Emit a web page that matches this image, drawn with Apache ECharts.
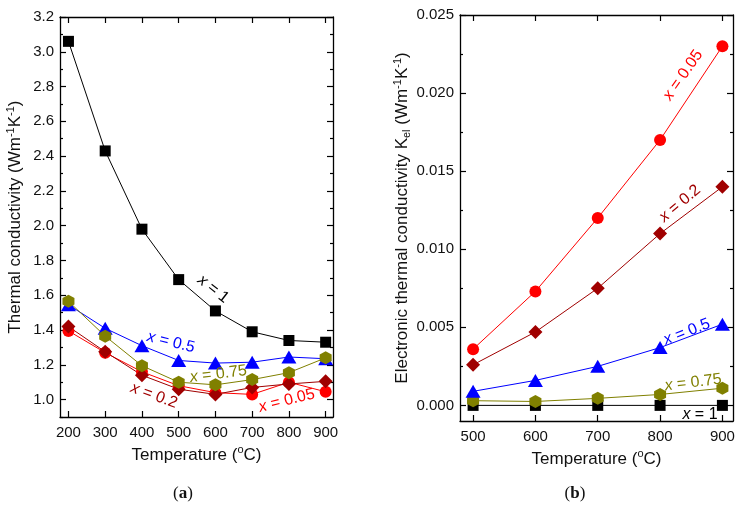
<!DOCTYPE html>
<html>
<head>
<meta charset="utf-8">
<script src="https://cdn.jsdelivr.net/npm/echarts@6/dist/echarts.min.js"></script>
<style>
html,body{margin:0;padding:0;background:#fff;}
#c{width:742px;height:507px;}
</style>
</head>
<body>
<div id="c"></div>
<script>
// ---------- data ----------
const tempA = [200, 300, 400, 500, 600, 700, 800, 900];
const kA_x1   = [3.06, 2.43, 1.98, 1.69, 1.51, 1.39, 1.34, 1.33];
const kA_x05  = [1.545, 1.41, 1.31, 1.225, 1.21, 1.215, 1.245, 1.235];
const kA_x075 = [1.565, 1.365, 1.195, 1.10, 1.085, 1.115, 1.155, 1.24];
const kA_x02  = [1.42, 1.275, 1.14, 1.06, 1.03, 1.07, 1.09, 1.105];
const kA_x005 = [1.395, 1.27, 1.16, 1.08, 1.04, 1.03, 1.10, 1.045];

const tempB = [500, 600, 700, 800, 900];
const kB_x005 = [0.0036, 0.0073, 0.0120, 0.0170, 0.0230];
const kB_x02  = [0.0026, 0.0047, 0.0075, 0.0110, 0.0140];
const kB_x05  = [0.0009, 0.0016, 0.0025, 0.0037, 0.0052];
const kB_x075 = [0.0003, 0.00025, 0.00045, 0.0007, 0.0011];
const kB_x1   = [0, 0, 0, 0, 0];

const xTicksA = [200, 300, 400, 500, 600, 700, 800, 900];
const yTicksA = [1.0, 1.2, 1.4, 1.6, 1.8, 2.0, 2.2, 2.4, 2.6, 2.8, 3.0, 3.2];
const yMinorA = [0.9, 1.1, 1.3, 1.5, 1.7, 1.9, 2.1, 2.3, 2.5, 2.7, 2.9, 3.1];
const xTicksB = [500, 600, 700, 800, 900];
const yTicksB = [0.000, 0.005, 0.010, 0.015, 0.020, 0.025];
const yMinorB = [0.0025, 0.0075, 0.0125, 0.0175, 0.0225];

// ---------- styles ----------
const FONT = 'Liberation Sans, Arial, sans-serif';
const C = { x1: '#000000', x05: '#0000ff', x075: '#808000', x02: '#a00000', x005: '#ff0000' };
const HEX = 'path://M0,-1 L0.866,-0.5 L0.866,0.5 L0,1 L-0.866,0.5 L-0.866,-0.5 Z';

function zip(xs, ys) { return xs.map((x, i) => [x, ys[i]]); }

const richT = {
  t: { fontSize: 17, fontFamily: FONT, color: '#111', lineHeight: 20 },
  s: { fontSize: 11, fontFamily: FONT, color: '#111', verticalAlign: 'top', lineHeight: 11 },
  b: { fontSize: 11, fontFamily: FONT, color: '#111', verticalAlign: 'bottom', lineHeight: 9 }
};

function xMain(gridIndex, min, max, ticks, gap) {
  return {
    type: 'value', gridIndex, min, max, position: 'bottom',
    axisLine: { show: true, onZero: false, lineStyle: { color: '#000', width: 1.3 } },
    axisTick: { show: true, inside: true, length: 6, customValues: ticks, lineStyle: { color: '#000', width: 1.2 } },
    axisLabel: { customValues: ticks, color: '#111', fontSize: 15, fontFamily: FONT, margin: 8 },
    splitLine: { show: false },
    name: '{t|Temperature (}{s|o}{t|C)}',
    nameLocation: 'middle', nameGap: gap,
    nameTextStyle: { rich: richT }
  };
}
function xTop(gridIndex, min, max, ticks) {
  return {
    type: 'value', gridIndex, min, max, position: 'top',
    axisLine: { show: true, onZero: false, lineStyle: { color: '#000', width: 1.3 } },
    axisTick: { show: true, inside: true, length: 6, customValues: ticks, lineStyle: { color: '#000', width: 1.2 } },
    axisLabel: { show: false }, splitLine: { show: false }
  };
}
function yAxisSet(gridIndex, min, max, ticks, minor, fmt, name, nameGap) {
  return [
    {
      type: 'value', gridIndex, min, max, position: 'left',
      axisLine: { show: true, onZero: false, lineStyle: { color: '#000', width: 1.3 } },
      axisTick: { show: true, inside: true, length: 6, customValues: ticks, lineStyle: { color: '#000', width: 1.2 } },
      axisLabel: { customValues: ticks, color: '#111', fontSize: 15, fontFamily: FONT, margin: 6, formatter: fmt },
      splitLine: { show: false },
      name, nameLocation: 'middle', nameGap, nameRotate: 90,
      nameTextStyle: { rich: richT }
    },
    {
      type: 'value', gridIndex, min, max, position: 'left',
      axisLine: { show: false },
      axisTick: { show: true, inside: true, length: 3, customValues: minor, lineStyle: { color: '#000', width: 1.2 } },
      axisLabel: { show: false }, splitLine: { show: false }
    },
    {
      type: 'value', gridIndex, min, max, position: 'right',
      axisLine: { show: true, onZero: false, lineStyle: { color: '#000', width: 1.3 } },
      axisTick: { show: true, inside: true, length: 6, customValues: ticks, lineStyle: { color: '#000', width: 1.2 } },
      axisLabel: { show: false }, splitLine: { show: false }
    },
    {
      type: 'value', gridIndex, min, max, position: 'right',
      axisLine: { show: false },
      axisTick: { show: true, inside: true, length: 3, customValues: minor, lineStyle: { color: '#000', width: 1.2 } },
      axisLabel: { show: false }, splitLine: { show: false }
    }
  ];
}

function ser(name, xi, yi, xs, ys, color, symbol, size) {
  return {
    name, type: 'line', xAxisIndex: xi, yAxisIndex: yi,
    data: zip(xs, ys), symbol, symbolSize: size, showSymbol: true,
    lineStyle: { color, width: 1 }, itemStyle: { color, borderWidth: 0 },
    silent: true, animation: false
  };
}

const SZ = { rect: 11, circle: 12, diamond: [14, 14], triangle: [15, 13], hex: [12, 13] };

const option = {
  animation: false,
  backgroundColor: '#fff',
  grid: [
    { left: 60, top: 17, right: 409, bottom: 90 },
    { left: 460, top: 15, right: 9, bottom: 86 }
  ],
  xAxis: [
    xMain(0, 177, 920, xTicksA, 25), xTop(0, 177, 920, xTicksA),
    xMain(1, 479, 917, xTicksB, 23), xTop(1, 479, 917, xTicksB)
  ],
  yAxis: [
    ...yAxisSet(0, 0.9, 3.2, yTicksA, yMinorA, v => v.toFixed(1),
      '{t|Thermal conductivity (Wm}{s|-1}{t|K}{s|-1}{t|)}', 35),
    ...yAxisSet(1, -0.001, 0.025, yTicksB, yMinorB, v => v.toFixed(3),
      '{t|Electronic thermal conductivity K}{b|el}{t| (Wm}{s|-1}{t|K}{s|-1}{t|)}', 48)
  ],
  series: [
    ser('x=0.05', 0, 0, tempA, kA_x005, C.x005, 'circle', SZ.circle),
    ser('x=0.2', 0, 0, tempA, kA_x02, C.x02, 'diamond', SZ.diamond),
    ser('x=0.5', 0, 0, tempA, kA_x05, C.x05, 'triangle', SZ.triangle),
    ser('x=0.75', 0, 0, tempA, kA_x075, C.x075, HEX, SZ.hex),
    ser('x=1', 0, 0, tempA, kA_x1, C.x1, 'rect', SZ.rect),
    ser('x=1', 2, 4, tempB, kB_x1, C.x1, 'rect', SZ.rect),
    ser('x=0.75', 2, 4, tempB, kB_x075, C.x075, HEX, SZ.hex),
    ser('x=0.5', 2, 4, tempB, kB_x05, C.x05, 'triangle', SZ.triangle),
    ser('x=0.2', 2, 4, tempB, kB_x02, C.x02, 'diamond', SZ.diamond),
    ser('x=0.05', 2, 4, tempB, kB_x005, C.x005, 'circle', SZ.circle)
  ]
};

const chart = echarts.init(document.getElementById('c'), null, { renderer: 'canvas' });
chart.setOption(option);

// ---------- annotations (anchored in data coordinates) ----------
const notes = [
  { p: 0, x: 594, y: 1.635, v: '1',    c: C.x1,   rot: -38 },
  { p: 0, x: 479, y: 1.33,  v: '0.5',  c: C.x05,  rot: -14 },
  { p: 0, x: 608, y: 1.147, v: '0.75', c: C.x075, rot: 7 },
  { p: 0, x: 433, y: 1.023, v: '0.2',  c: C.x02,  rot: -20 },
  { p: 0, x: 794, y: 0.994, v: '0.05', c: C.x005, rot: 14 },
  { p: 1, x: 837, y: 0.02115, v: '0.05', c: C.x005, rot: 55 },
  { p: 1, x: 832, y: 0.01293, v: '0.2',  c: C.x02,  rot: 40 },
  { p: 1, x: 843, y: 0.0047,  v: '0.5',  c: C.x05,  rot: 21 },
  { p: 1, x: 853, y: 0.00146, v: '0.75', c: C.x075, rot: 7 },
  { p: 1, x: 864, y: -0.0006, v: '1',    c: C.x1,   rot: 0 }
];
const graphics = notes.map(n => {
  const pt = chart.convertToPixel({ xAxisIndex: n.p === 0 ? 0 : 2, yAxisIndex: n.p === 0 ? 0 : 4 }, [n.x, n.y]);
  return {
    type: 'text', x: pt[0], y: pt[1], rotation: n.rot * Math.PI / 180, z: 100,
    style: {
      text: '{i|x}{n| = ' + n.v + '}',
      align: 'center', verticalAlign: 'middle',
      fill: n.c, fontSize: 16, fontFamily: FONT,
      rich: {
        i: { fill: n.c, fontSize: 16, fontFamily: FONT, fontStyle: 'italic' },
        n: { fill: n.c, fontSize: 16, fontFamily: FONT }
      }
    }
  };
});
const panelLabels = [['a', 183, 494], ['b', 575, 494]];
panelLabels.forEach(([t, x, y]) => {
  graphics.push({
    type: 'text', x, y, z: 100,
    style: {
      text: '{p|(}{b|' + t + '}{p|)}', align: 'center', verticalAlign: 'middle',
      fill: '#111', fontSize: 17, fontFamily: 'Liberation Serif, Times New Roman, serif',
      rich: {
        p: { fill: '#111', fontSize: 17, fontFamily: 'Liberation Serif, Times New Roman, serif' },
        b: { fill: '#111', fontSize: 17, fontWeight: 'bold', fontFamily: 'Liberation Serif, Times New Roman, serif' }
      }
    }
  });
});
chart.setOption({ graphic: graphics });
</script>
</body>
</html>
